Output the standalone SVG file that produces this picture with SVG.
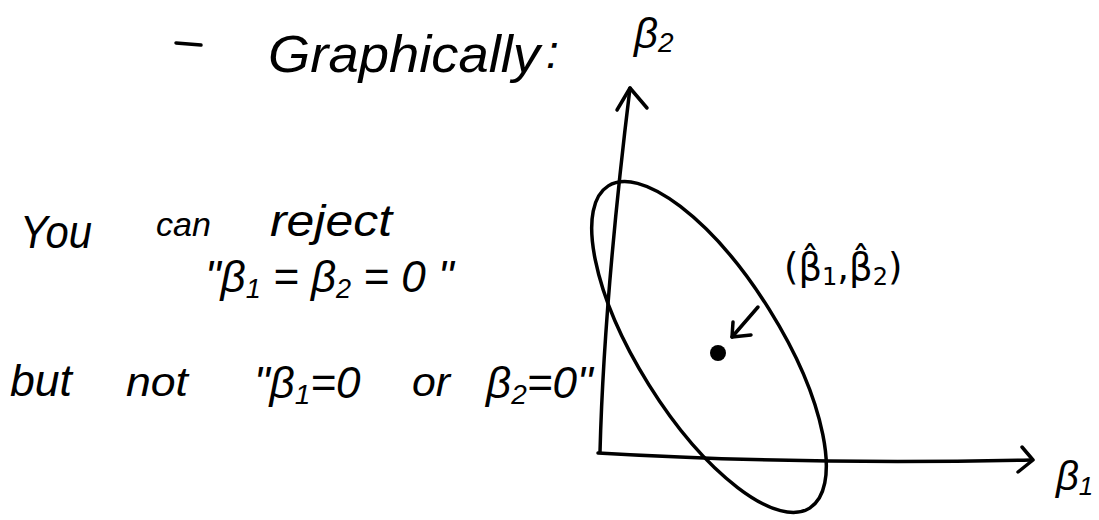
<svg xmlns="http://www.w3.org/2000/svg" width="1099" height="520" viewBox="0 0 1099 520">
  <style>
    .t { font-family: "Liberation Sans", "DejaVu Sans", sans-serif; font-style: italic; fill: #000; }
    .h { font-family: "DejaVu Sans", "Liberation Sans", sans-serif; fill: #000; }
    .ln { fill: none; stroke: #000; stroke-width: 3.5; stroke-linecap: round; stroke-linejoin: round; }
  </style>
  <rect width="1099" height="520" fill="#fff"/>

  <g id="heading">
    <line class="ln" x1="176" y1="43" x2="201" y2="45" stroke-width="5"/>
    <text class="t" x="268" y="72" font-size="52" textLength="272" lengthAdjust="spacingAndGlyphs">Graphically</text>
    <text class="t" x="546" y="68" font-size="46">:</text>
  </g>

  <g id="statement">
    <text class="t" x="20" y="248" font-size="46" textLength="72" lengthAdjust="spacingAndGlyphs">You</text>
    <text class="t" x="156" y="236" font-size="34" textLength="55" lengthAdjust="spacingAndGlyphs">can</text>
    <text class="t" x="270" y="236" font-size="44" textLength="122" lengthAdjust="spacingAndGlyphs">reject</text>
    <text class="t" x="205" y="292" font-size="44">"β<tspan font-size="27" dy="6">1</tspan><tspan dy="-6"> = β</tspan><tspan font-size="27" dy="6">2</tspan><tspan dy="-6"> = 0 "</tspan></text>
    <text class="t" x="10" y="396" font-size="44" textLength="62" lengthAdjust="spacingAndGlyphs">but</text>
    <text class="t" x="126" y="396" font-size="40" textLength="62" lengthAdjust="spacingAndGlyphs">not</text>
    <text class="t" x="254" y="398" font-size="44">"β<tspan font-size="28" dy="6">1</tspan><tspan dy="-6">=0</tspan></text>
    <text class="t" x="412" y="396" font-size="40" textLength="38" lengthAdjust="spacingAndGlyphs">or</text>
    <text class="t" x="486" y="398" font-size="44">β<tspan font-size="28" dy="6">2</tspan><tspan dy="-6">=0"</tspan></text>
  </g>

  <g id="axes">
    <path class="ln" d="M600 452 Q604 300 630 88"/>
    <path class="ln" d="M617 110 L630 88 L647 108"/>
    <path class="ln" d="M598 453 Q800 465 1031 460"/>
    <path class="ln" d="M1022 447 L1033 460 L1018 472"/>
  </g>

  <g id="axis-labels">
    <text class="t" x="634" y="48" font-size="42">β<tspan font-size="28" dy="4">2</tspan></text>
    <text class="t" x="1056" y="490" font-size="40">β<tspan font-size="26" dy="5">1</tspan></text>
  </g>

  <g id="confidence-ellipse">
    <ellipse class="ln" cx="709" cy="347" rx="190" ry="71" transform="rotate(58 709 347)"/>
  </g>

  <g id="estimate">
    <circle cx="718" cy="353" r="8" fill="#000"/>
    <text class="h" x="784" y="280" font-size="37">(β̂<tspan font-size="24" dy="5">1</tspan><tspan dy="-5">,β̂</tspan><tspan font-size="24" dy="5">2</tspan><tspan dy="-5">)</tspan></text>
  </g>

  <g id="pointer">
    <path class="ln" d="M758 307 L732 337"/>
    <path class="ln" d="M733 322 L732 337 L751 335"/>
  </g>
</svg>
